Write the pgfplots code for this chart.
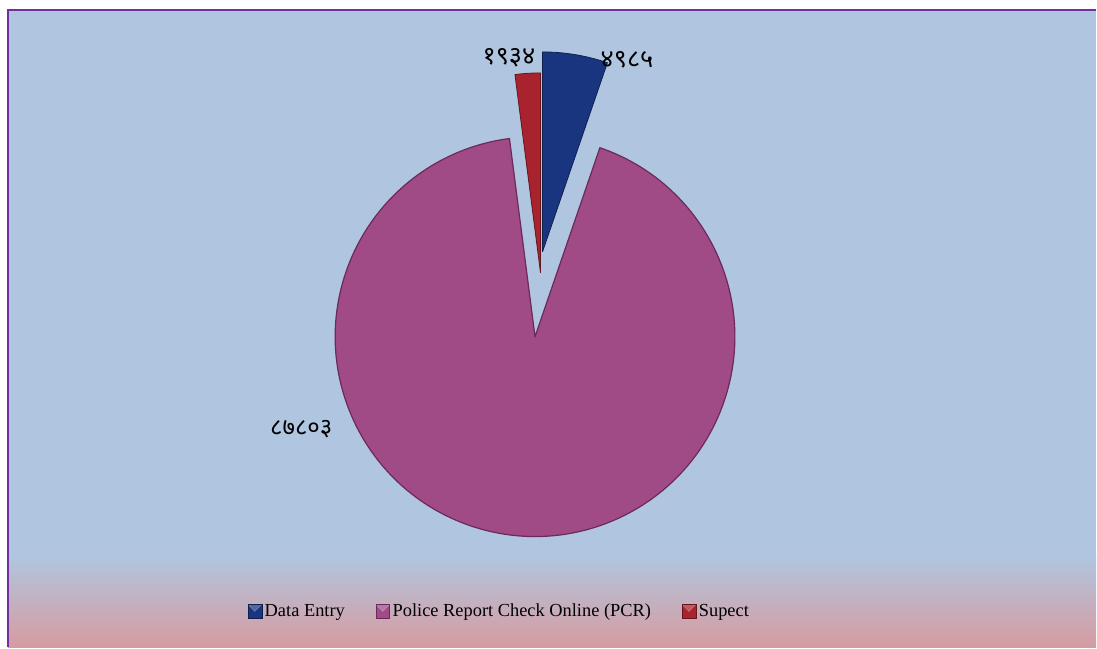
\documentclass[border=0pt]{standalone}
\usepackage{fontspec}
\setmainfont{Liberation Serif}
\newfontfamily\devfont[Script=Devanagari]{Noto Sans}
\usepackage{pgfplots}
\usepackage{pgfplotstable}
\pgfplotsset{compat=1.18}
\definecolor{bgblue}{HTML}{B0C6E0}
\definecolor{bgpink}{HTML}{D69BA0}
\definecolor{bordc}{HTML}{7030A0}
\definecolor{pcr}{HTML}{A04A86}
\definecolor{pcredge}{HTML}{6B2A5A}
\definecolor{dblue}{HTML}{1A3580}
\definecolor{dred}{HTML}{A8232D}

\pgfplotstableread{
label value
DataEntry 4985
PCR 87803
Supect 1934
}\piedata

\begin{document}
\begin{tikzpicture}
\pgfplotstablegetelem{0}{value}\of\piedata \edef\va{\pgfplotsretval}
\pgfplotstablegetelem{1}{value}\of\piedata \edef\vb{\pgfplotsretval}
\pgfplotstablegetelem{2}{value}\of\piedata \edef\vc{\pgfplotsretval}
\edef\aa{\fpeval{360*\va/(\va+\vb+\vc)}}
\edef\ab{\fpeval{360*\vb/(\va+\vb+\vc)}}
\edef\ac{\fpeval{360*\vc/(\va+\vb+\vc)}}
\edef\ea{\fpeval{90-\aa}}
\edef\eb{\fpeval{90-\aa-\ab}}
\edef\sc{\fpeval{90+\ac}}
\begin{axis}[
  scale only axis, width=822.75pt, height=486pt,
  xmin=0, xmax=1097, ymin=0, ymax=648, y dir=reverse,
  axis lines=none, ticks=none, clip=false,
  legend image code/.code={
    \fill[#1] (0pt,-5.2pt) rectangle (10.5pt,5.3pt);
    \fill[white, opacity=0.25] (0pt,5.3pt) -- (10.5pt,5.3pt) -- (5.25pt,0pt) -- cycle;
    \draw[#1, fill=none, line width=0.4pt] (0pt,-5.2pt) rectangle (10.5pt,5.3pt);
  },
  legend columns=3,
  legend style={at={(axis cs:500,612)}, anchor=center, draw=none, fill=none,
    font=\fontsize{13.8}{16}\selectfont,
    /tikz/every even column/.append style={column sep=21pt}},
]
\fill[white] (axis cs:0,0) rectangle (axis cs:1097,648);
\fill[bgblue] (axis cs:8,10) rectangle (axis cs:1097,556);
\shade[top color=bgblue, bottom color=bgpink] (axis cs:8,555) rectangle (axis cs:1097,648);
\draw[bordc, line width=1.5pt] (axis cs:1097,10) -- (axis cs:8,10) -- (axis cs:8,648);

\filldraw[fill=pcr, draw=pcredge, line width=0.9pt, line join=round]
  (axis cs:535.5,337) -- ++(\ea:150pt) arc[start angle=\ea, end angle=\eb, radius=150pt] -- cycle;
\filldraw[fill=dblue, draw=dblue!60!black, line width=0.6pt, line join=round]
  (axis cs:543,252) -- ++(90:150pt) arc[start angle=90, end angle=\ea, radius=150pt] -- cycle;
\filldraw[fill=dred, draw=dred!60!black, line width=0.6pt, line join=round]
  (axis cs:541,273) -- ++(90:150pt) arc[start angle=90, end angle=\sc, radius=150pt] -- cycle;

\node[font=\devfont\fontsize{19}{22}\selectfont, anchor=east, inner sep=0pt] at (axis cs:536,58) {१९३४};
\node[font=\devfont\fontsize{19}{22}\selectfont, anchor=west, inner sep=0pt] at (axis cs:601,60) {४९८५};
\node[font=\devfont\fontsize{18}{22}\selectfont, anchor=east, inner sep=0pt] at (axis cs:333,430) {८७८०३};

\addlegendimage{fill=dblue, draw=dblue!60!black}
\addlegendentry{Data Entry}
\addlegendimage{fill=pcr, draw=pcredge}
\addlegendentry{Police Report Check Online (PCR)}
\addlegendimage{fill=dred, draw=dred!60!black}
\addlegendentry{Supect}
\end{axis}
\end{tikzpicture}
\end{document}
